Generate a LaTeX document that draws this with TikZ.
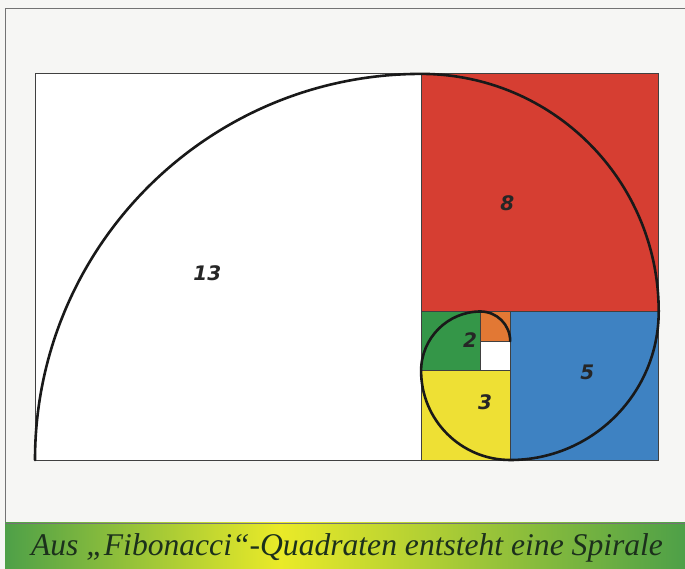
\documentclass[tikz,border=0pt]{standalone}
\usepackage{fontspec}
\setmainfont{Liberation Serif}
\newfontfamily\numfont{DejaVu Sans}
\usepackage{tikz}
\usepackage{xcolor}
\usetikzlibrary{positioning,calc}
\definecolor{paper}{RGB}{246,246,244}
\definecolor{tilered}{RGB}{214,62,50}
\definecolor{tileblue}{RGB}{62,130,194}
\definecolor{tilegreen}{RGB}{52,150,72}
\definecolor{tileyellow}{RGB}{238,224,52}
\definecolor{tileorange}{RGB}{226,120,52}
\definecolor{capgreen}{RGB}{78,160,72}
\definecolor{capyellow}{RGB}{234,234,40}
\definecolor{captext}{RGB}{28,48,28}

\begin{document}
\begin{tikzpicture}[
  x=1pt,y=1pt,
  tile/.style={draw=black!75,line width=0.8pt},
  frameline/.style={draw=black!55,line width=0.8pt},
  num/.style={font=\numfont\bfseries\itshape\fontsize{20}{20}\selectfont,
              text=black!85,inner sep=0pt},
  spiral/.style={draw=black!90,line width=2.6pt,line cap=round},
  caption/.style={font=\itshape\fontsize{31.6}{31.6}\selectfont,text=captext}
]
\useasboundingbox (0,0) rectangle (685,569);
\fill[paper] (0,0) rectangle (685,569);
% outer frame and caption bar
\draw[frameline] (5,46) -- (5,561) -- (685,561);
\shade[left color=capgreen,right color=capyellow] (5,0) rectangle (280,46);
\shade[left color=capyellow,right color=capgreen] (280,0) rectangle (685,46);
\draw[frameline] (5,46) -- (685,46);
\node[caption] (cap) at (347,21) {Aus „Fibonacci“-Quadraten entsteht eine Spirale};

\begin{scope}[shift={(35pt,109pt)},x=29.7pt,y=29.7pt]
% Fibonacci squares: x/y/side/colour
\foreach \x/\y/\s/\c in {0/0/13/white, 13/5/8/tilered, 16/0/5/tileblue,
                         13/0/3/tileyellow, 13/3/2/tilegreen,
                         15/4/1/tileorange, 15/3/1/white}
  \filldraw[tile,fill=\c] (\x,\y) rectangle ++(\s,\s);
\node[num] (n13) at (5.8,6.3) {13};
\node[num] (n8) at (15.9,8.65) {8};
\node[num] (n5) at (18.6,2.95) {5};
\node[num] (n3) at (15.15,1.95) {3};
\node[num] (n2) at (14.65,4.05) {2};
% the spiral, one quarter circle per square
\draw[spiral] (0,0) arc[start angle=180,end angle=90,radius=13]
  arc[start angle=90,end angle=0,radius=8]
  arc[start angle=0,end angle=-90,radius=5]
  arc[start angle=-90,end angle=-180,radius=3]
  arc[start angle=180,end angle=90,radius=2]
  arc[start angle=90,end angle=0,radius=1];
\end{scope}
\end{tikzpicture}
\end{document}
